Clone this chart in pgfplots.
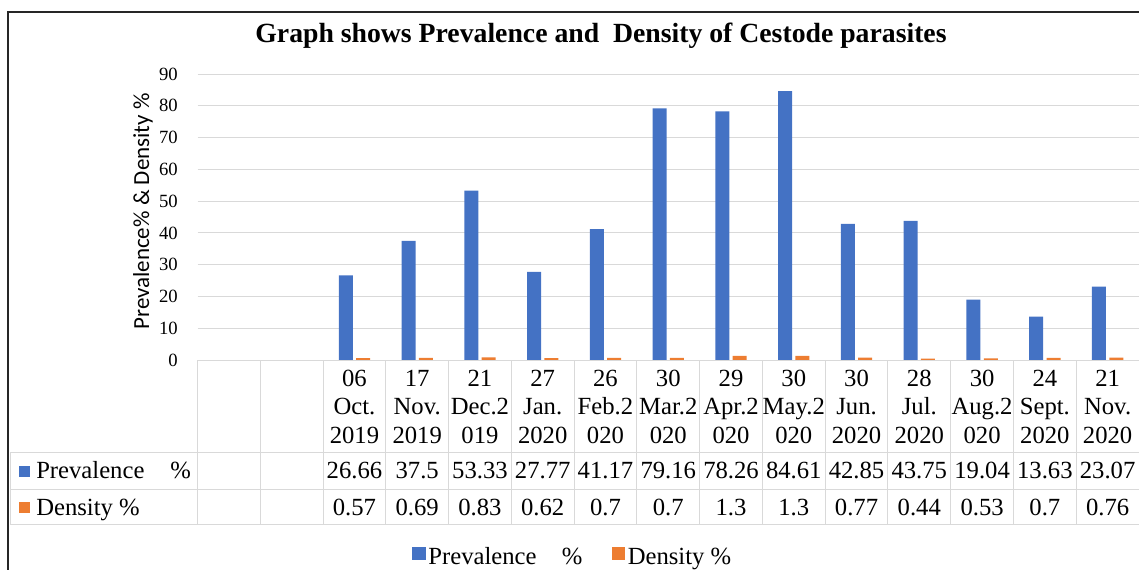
\documentclass[border=0pt]{standalone}
\usepackage{fontspec}
\setmainfont{Liberation Serif}
\newfontfamily\calibri{Carlito}
\usepackage{pgfplots}
\usepackage{pgfplotstable}
\pgfplotsset{compat=1.18}
\definecolor{cblue}{HTML}{4472C4}
\definecolor{corange}{HTML}{ED7D31}
\definecolor{cgrid}{HTML}{D9D9D9}
\definecolor{cframe}{HTML}{262626}

\newcommand{\cl}[5]{\parbox[t]{60pt}{\centering\baselineskip=21.375pt\lineskiplimit=-100pt\relax #1\\#2\\#3\\[4.875pt]#4\\[6.375pt]#5}}

\pgfplotstableread{
x prev dens
2 26.66 0.57
3 37.5 0.69
4 53.33 0.83
5 27.77 0.62
6 41.17 0.7
7 79.16 0.7
8 78.26 1.3
9 84.61 1.3
10 42.85 0.77
11 43.75 0.44
12 19.04 0.53
13 13.63 0.7
14 23.07 0.76
}\data

\begin{document}
\begin{tikzpicture}
\useasboundingbox (0pt,0pt) rectangle (854.25pt,-426.75pt);
\begin{axis}[
 at={(148.125pt,-270pt)}, anchor=south west,
 scale only axis, width=706.125pt, height=214.5pt,
 xmin=-0.5, xmax=14.5, ymin=0, ymax=90,
 ybar=2.5pt, bar width=10.5pt,
 xtick={0,...,14},
 xticklabels={{},{},
  {\cl{06}{Oct.}{2019}{26.66}{0.57}},
  {\cl{17}{Nov.}{2019}{37.5}{0.69}},
  {\cl{21}{Dec.2}{019}{53.33}{0.83}},
  {\cl{27}{Jan.}{2020}{27.77}{0.62}},
  {\cl{26}{Feb.2}{020}{41.17}{0.7}},
  {\cl{30}{Mar.2}{020}{79.16}{0.7}},
  {\cl{29}{Apr.2}{020}{78.26}{1.3}},
  {\cl{30}{May.2}{020}{84.61}{1.3}},
  {\cl{30}{Jun.}{2020}{42.85}{0.77}},
  {\cl{28}{Jul.}{2020}{43.75}{0.44}},
  {\cl{30}{Aug.2}{020}{19.04}{0.53}},
  {\cl{24}{Sept.}{2020}{13.63}{0.7}},
  {\cl{21}{Nov.}{2020}{23.07}{0.76}}},
 ytick={0,10,...,90},
 major tick length=0pt,
 ymajorgrids, grid style={cgrid, line width=0.75pt},
 axis line style={draw=none},
 /pgf/number format/assume math mode=true,
 yticklabel style={font=\fontsize{14}{16}\selectfont, anchor=east, inner sep=0pt, xshift=-14.6pt},
 xticklabel style={anchor=base, inner sep=0pt, yshift=-19.5pt, font=\fontsize{18.5}{21.375}\selectfont},
 legend columns=2,
 legend style={at={(0.399,-0.69)}, anchor=center, draw=none, fill=none,
   font=\fontsize{18.5}{21}\selectfont, inner sep=0pt,
   /tikz/every even column/.append style={column sep=20pt}},
 legend image code/.code={\path[#1,draw=none] (-1pt,-2pt) rectangle (9pt,7.5pt);},
]
\addplot[fill=cblue, draw=none] table[x=x, y=prev] {\data};
\addplot[fill=corange, draw=none] table[x=x, y=dens] {\data};
\legend{Prevalence\hspace{19pt}\%, Density \%}
\end{axis}
\begin{scope}[x=0.75pt, y=-0.75pt]
 % frame
 \draw[cframe, line width=1.5pt] (8,575) -- (8,12) -- (1145,12);
 % table lines
 \draw[cgrid, line width=0.75pt] (197.5,360) -- (1140,360);
 \foreach \yy in {452,489,524} \draw[cgrid, line width=0.75pt] (10,\yy) -- (1140,\yy);
 \draw[cgrid, line width=0.75pt] (10,452) -- (10,524);
 \foreach \k in {0,...,14} \draw[cgrid, line width=0.75pt] ({197.5+\k*62.77},360) -- ({197.5+\k*62.77},524);
 % row labels
 \fill[cblue] (18.5,465.5) rectangle (30,477);
 \node[anchor=base west, inner sep=0pt, font=\fontsize{18.5}{21}\selectfont] at (36,478) {Prevalence};
 \node[anchor=base west, inner sep=0pt, font=\fontsize{18.5}{21}\selectfont] at (170,478) {\%};
 \fill[corange] (18.5,501.5) rectangle (30,513);
 \node[anchor=base west, inner sep=0pt, font=\fontsize{18.5}{21}\selectfont] at (36,515) {Density \%};
 % title
 \node[anchor=base, inner sep=0pt, font=\fontsize{20.8}{24}\selectfont\bfseries] at (601,42) {Graph shows Prevalence and\ \ Density of Cestode parasites};
 % y label
 \node[rotate=90, inner sep=0pt, font=\calibri\fontsize{17.25}{20}\selectfont] at (143,211.5) {Prevalence\% \& Density \%};
\end{scope}
\end{tikzpicture}
\end{document}
